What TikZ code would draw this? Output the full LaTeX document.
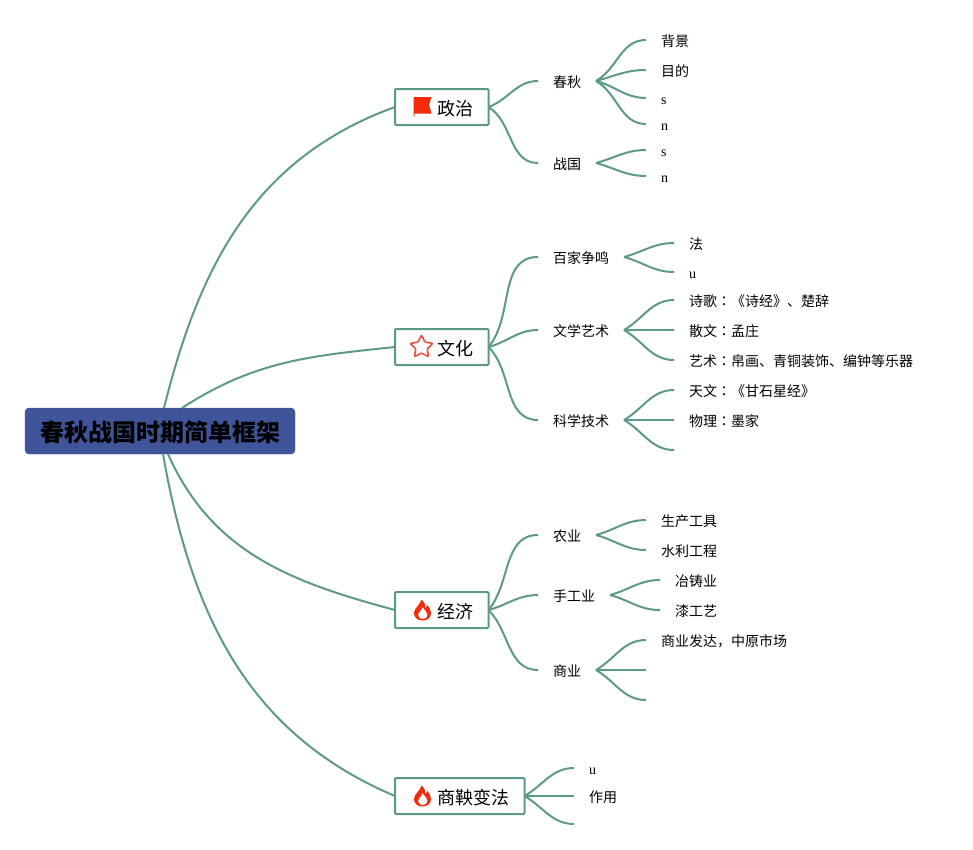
\documentclass[tikz,border=0pt]{standalone}
\usepackage{fontspec}
\usepackage{xcolor}
\setmainfont{Noto Sans CJK SC}
\newfontfamily\serifface{Liberation Serif}
\newfontfamily\colonface{Noto Sans CJK JP}
\newcommand{\fullcolon}{{\colonface ：}}
\usetikzlibrary{arrows.meta,positioning,shapes.geometric}
\definecolor{linegreen}{HTML}{5C9A87}
\definecolor{rootblue}{HTML}{3F5499}
\definecolor{iconred}{HTML}{F42C0C}
\definecolor{starred}{HTML}{E8523F}

\begin{document}
\begin{tikzpicture}[
    x=1pt, y=-1pt,
    root/.style={fill=rootblue, draw=rootblue, rounded corners=4pt, minimum width=270, minimum height=46, inner sep=0, outer sep=0, font=\fontsize{24}{28}\selectfont\bfseries, text height=22, text depth=2},
    topic/.style={draw=linegreen, line width=2pt, rounded corners=1pt, anchor=west, minimum height=36, inner xsep=15.5, inner ysep=0, outer sep=0, font=\fontsize{18}{22}\selectfont, text height=17, text depth=1},
    leaf/.style={anchor=west, inner xsep=15, inner ysep=0, outer sep=0, font=\fontsize{14}{16}\selectfont, text height=13, text depth=1},
    latin/.style={leaf, font=\fontsize{14}{16}\selectfont\serifface},
    branch/.style={draw=linegreen, line width=2pt},
    flagicon/.pic={
        \fill[iconred] (0,0) -- (18,0) -- (15.5,8) -- (18,16.5) -- (0.8,16.5) -- (0.8,19.5) -- (0,19.5) -- cycle;
    },
    fireicon/.pic={
        \fill[iconred, even odd rule] (0,10.5) .. controls (-5.5,10.5) and (-8.5,7) .. (-8.5,3) .. controls (-8.5,-2) and (-3,-4) .. (-1,-10.5) .. controls (2,-8) and (3,-5) .. (3,-2) .. controls (3.8,-2.6) and (4.6,-3.8) .. (5,-5) .. controls (7,-2) and (8.5,0) .. (8.5,3) .. controls (8.5,7) and (5.5,10.5) .. (0,10.5) -- cycle
        (0,9) .. controls (-3,9) and (-4.8,6.5) .. (-4,3.5) .. controls (-3.2,1.2) and (-0.5,-0.5) .. (0,-3) .. controls (2,-0.5) and (5,2.5) .. (5,5.5) .. controls (5,8) and (2.5,9) .. (0,9) -- cycle;
    }
]
\useasboundingbox (0,0) rectangle (973,849);

\node[root] (root) at (160,431) {春秋战国时期简单框架};

\node[topic] (politics) at (395,107) {\hspace{26.5pt}政治};
\node[topic] (culture) at (395,347) {\hspace{26.5pt}文化};
\node[topic] (economy) at (395,610) {\hspace{26.5pt}经济};
\node[topic] (reform) at (395,796) {\hspace{26.5pt}商鞅变法};

\pic at (413.5,97) {flagicon};
\node[star, star points=5, star point ratio=2, draw=starred, line width=1.6pt, line join=round, rounded corners=1pt, fill=white, minimum size=24, inner sep=0] (staricon) at (421.5,347) {};
\pic at (422.5,610) {fireicon};
\pic at (422.5,796) {fireicon};

\node[leaf] (spring) at (538,81) {春秋};
\node[leaf] (warring) at (538,163) {战国};
\node[leaf] (schools) at (538,257) {百家争鸣};
\node[leaf] (arts) at (538,330) {文学艺术};
\node[leaf] (science) at (538,420) {科学技术};
\node[leaf] (farming) at (538,535) {农业};
\node[leaf] (craft) at (538,595) {手工业};
\node[leaf] (trade) at (538,670) {商业};

\node[leaf] (background) at (646,40) {背景};
\node[leaf] (goal) at (646,70) {目的};
\node[latin] (springs) at (646,98) {s};
\node[latin] (springn) at (646,124) {n};
\node[latin] (warrings) at (646,150) {s};
\node[latin] (warringn) at (646,176) {n};

\node[leaf] (law) at (674,243) {法};
\node[latin] (schoolu) at (674,272) {u};
\node[leaf] (poetry) at (674,300) {诗歌\fullcolon《诗经》、楚辞};
\node[leaf] (prose) at (674,330) {散文\fullcolon 孟庄};
\node[leaf] (artwork) at (674,360) {艺术\fullcolon 帛画、青铜装饰、编钟等乐器};
\node[leaf] (astronomy) at (674,390) {天文\fullcolon《甘石星经》};
\node[leaf] (physics) at (674,420) {物理\fullcolon 墨家};
\coordinate (scienceend) at (674,450);

\node[leaf] (tools) at (646,520) {生产工具};
\node[leaf] (water) at (646,550) {水利工程};
\node[leaf] (casting) at (660,580) {冶铸业};
\node[leaf] (lacquer) at (660,610) {漆工艺};
\node[leaf] (market) at (646,640) {商业发达，中原市场};
\coordinate (tradeendone) at (646,670);
\coordinate (tradeendtwo) at (646,700);

\node[latin] (reformu) at (574,768) {u};
\node[leaf] (effect) at (574,796) {作用};
\coordinate (reformend) at (574,824);

\draw[branch] ([xshift=4pt]root.north) to[out=76, in=200] (politics.west);
\draw[branch] ([xshift=22pt]root.north) to[out=33, in=186] (culture.west);
\draw[branch] ([xshift=8pt]root.south) to[out=-66, in=165] (economy.west);
\draw[branch] ([xshift=3pt]root.south) to[out=-80, in=157] (reform.west);

\foreach \from/\to/\bend in {politics/spring/20, politics/warring/-32, culture/schools/50, culture/arts/15, culture/science/-45, economy/farming/50, economy/craft/15, economy/trade/-45, spring/background/30, spring/goal/15, spring/springs/-15, spring/springn/-30, warring/warrings/15, warring/warringn/-15, schools/law/15, schools/schoolu/-15, arts/poetry/30, arts/artwork/-30, science/astronomy/30, science/scienceend/-30, farming/tools/15, farming/water/-15, craft/casting/15, craft/lacquer/-15, trade/market/30, trade/tradeendtwo/-30, reform/reformu/30, reform/reformend/-30}
    \draw[branch] (\from.east) to[out=\bend, in=180] (\to.west);
\draw[branch] (arts.east) -- (prose.west);
\draw[branch] (science.east) -- (physics.west);
\draw[branch] (trade.east) -- (tradeendone);
\draw[branch] (reform.east) -- (effect.west);
\end{tikzpicture}
\end{document}
